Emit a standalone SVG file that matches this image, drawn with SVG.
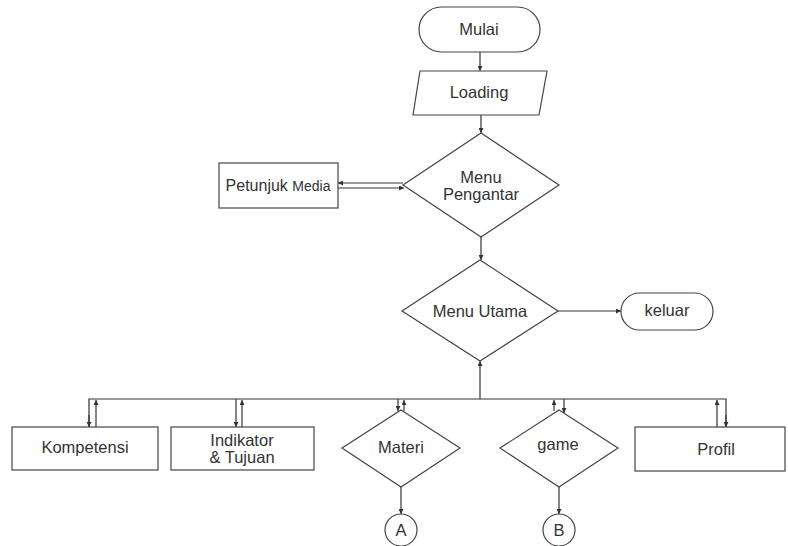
<svg xmlns="http://www.w3.org/2000/svg" width="788" height="546" viewBox="0 0 788 546">
<defs>
<marker id="ah" viewBox="0 0 10 10" refX="10" refY="5" markerWidth="5" markerHeight="5" orient="auto" markerUnits="userSpaceOnUse">
<path d="M0,0 L10,5 L0,10 z" fill="#333"/>
</marker>
<style>
.s{fill:#fff;stroke:#444;stroke-width:1.2}
.c{fill:none;stroke:#333;stroke-width:1.2}
.t{font-family:"Liberation Sans",Arial,sans-serif;font-size:16.5px;fill:#333;text-anchor:middle}
</style>
</defs>
<rect width="788" height="546" fill="#fff"/>
<g id="connectors">
<line class="c" x1="480" y1="52" x2="480" y2="71" marker-end="url(#ah)"/>
<line class="c" x1="481" y1="115" x2="481" y2="133" marker-end="url(#ah)"/>
<line class="c" x1="403" y1="183" x2="338" y2="183" marker-end="url(#ah)"/>
<line class="c" x1="338" y1="188" x2="404" y2="188" marker-end="url(#ah)"/>
<line class="c" x1="481" y1="237" x2="481" y2="260" marker-end="url(#ah)"/>
<line class="c" x1="558" y1="311" x2="621" y2="311" marker-end="url(#ah)"/>
<line class="c" x1="480" y1="399" x2="480" y2="361" marker-end="url(#ah)"/>
<polyline class="c" points="89,427 89,399 726,399 726,427"/>
<line class="c" x1="89" y1="415" x2="89" y2="427" marker-end="url(#ah)"/>
<line class="c" x1="726" y1="415" x2="726" y2="427" marker-end="url(#ah)"/>
<line class="c" x1="96" y1="427" x2="96" y2="400" marker-end="url(#ah)"/>
<line class="c" x1="236" y1="399" x2="236" y2="427" marker-end="url(#ah)"/>
<line class="c" x1="242" y1="427" x2="242" y2="400" marker-end="url(#ah)"/>
<line class="c" x1="398" y1="399" x2="398" y2="411" marker-end="url(#ah)"/>
<line class="c" x1="404" y1="411" x2="404" y2="400" marker-end="url(#ah)"/>
<line class="c" x1="554" y1="411" x2="554" y2="400" marker-end="url(#ah)"/>
<line class="c" x1="564" y1="399" x2="564" y2="413" marker-end="url(#ah)"/>
<line class="c" x1="717" y1="427" x2="717" y2="400" marker-end="url(#ah)"/>
<line class="c" x1="401" y1="487" x2="401" y2="514" marker-end="url(#ah)"/>
<line class="c" x1="559" y1="487" x2="559" y2="514" marker-end="url(#ah)"/>
</g>
<g id="mulai">
<rect class="s" x="419" y="7" width="121" height="45" rx="22.5"/>
<text class="t" x="479" y="35">Mulai</text>
</g>
<g id="loading">
<polygon class="s" points="420,71 547,71 539,115 413,115"/>
<text class="t" x="479" y="98">Loading</text>
</g>
<g id="menu-pengantar">
<polygon class="s" points="481,133 559,185 481,237 403,185"/>
<text class="t" x="481" y="183">Menu</text>
<text class="t" x="481" y="200">Pengantar</text>
</g>
<g id="petunjuk-media">
<rect class="s" x="219" y="163" width="119" height="45"/>
<text class="t" x="278" y="191"><tspan font-size="16">Petunjuk </tspan><tspan font-size="14">Media</tspan></text>
</g>
<g id="menu-utama">
<polygon class="s" points="480,260 558,311 480,361 402,311"/>
<text class="t" x="480" y="317" font-size="17.5">Menu Utama</text>
</g>
<g id="keluar">
<rect class="s" x="621" y="293" width="92" height="37" rx="18.5"/>
<text class="t" x="667" y="316" font-size="12">keluar</text>
</g>
<g id="kompetensi">
<rect class="s" x="12" y="427" width="146" height="43"/>
<text class="t" x="85" y="453">Kompetensi</text>
</g>
<g id="indikator">
<rect class="s" x="171" y="427" width="143" height="43"/>
<text class="t" x="242" y="446">Indikator</text>
<text class="t" x="242" y="463">&amp; Tujuan</text>
</g>
<g id="materi">
<polygon class="s" points="401,410 460,448 401,487 342,448"/>
<text class="t" x="401" y="453">Materi</text>
</g>
<g id="game">
<polygon class="s" points="559,410 618,448 559,487 500,448"/>
<text class="t" x="558" y="450">game</text>
</g>
<g id="profil">
<rect class="s" x="635" y="427" width="150" height="44"/>
<text class="t" x="716" y="455">Profil</text>
</g>
<g id="a">
<circle class="s" cx="401" cy="530" r="16"/>
<text class="t" x="401" y="536">A</text>
</g>
<g id="b">
<circle class="s" cx="559" cy="530" r="16"/>
<text class="t" x="559" y="536">B</text>
</g>
</svg>
